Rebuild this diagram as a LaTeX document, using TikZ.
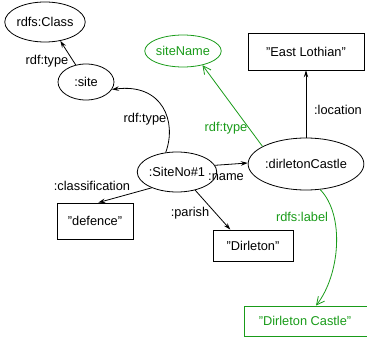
\documentclass[tikz,border=0pt]{standalone}
\usepackage{fontspec}
\setmainfont{Liberation Sans}
\usetikzlibrary{shapes.geometric,arrows.meta,calc}
\definecolor{lit}{RGB}{25,155,25}
\begin{document}
\begin{tikzpicture}[x=1pt,y=-1pt,
  every node/.style={font=\fontsize{12.8}{15}\selectfont},
  res/.style={draw,ellipse,inner sep=0pt,line width=0.8pt},
  val/.style={draw,rectangle,inner sep=0pt,line width=0.8pt},
  edge/.style={line width=0.8pt,-{Stealth[length=7pt,width=4.5pt,inset=2.5pt]}},
  gedge/.style={draw=lit,line width=0.8pt,-{Straight Barb[length=8pt,width=8pt]}},
  lbl/.style={inner sep=0pt},
  glbl/.style={inner sep=0pt,text=lit}]
\useasboundingbox (0,0) rectangle (367,337);
\clip (0,0) rectangle (367,337);

% resources
\node[res,minimum width=78pt,minimum height=40pt] (class) at (45,22) {rdfs:Class};
\node[res,minimum width=56pt,minimum height=36pt] (site) at (86,82) {:site};
\node[res,draw=lit,text=lit,minimum width=58pt,minimum height=32pt] (sitename) at (183,51) {siteName};
\node[res,minimum width=58pt,minimum height=40pt] (siteno) at (177,172) {:SiteNo\#1};
\node[res,minimum width=108pt,minimum height=52pt] (castle) at (306,164) {:dirletonCastle};

% literals
\node[val,minimum width=116pt,minimum height=37pt] (east) at (306,51.5) {"East Lothian"};
\node[val,minimum width=76pt,minimum height=36pt] (defence) at (95,221) {"defence"};
\node[val,minimum width=80pt,minimum height=31pt] (dirleton) at (253,245.5) {"Dirleton"};
% the last literal runs past the right border of the picture
\node[val,draw=lit,text=lit,minimum width=140pt,minimum height=30pt] (dcastle) at (314,321) {\hspace*{-18pt}"Dirleton Castle"};

% properties
\draw[edge] (site.121) -- (class.309);
\node[lbl] at (47,61) {rdf:type};

\draw[edge] (siteno.120) .. controls (177,122) and (163,83) .. (site.344);
\node[lbl] at (145,119) {rdf:type};

\draw[edge] (siteno.10) -- (castle.179);
\node[lbl] at (226,177) {:name};

\draw[edge] (siteno.212) -- (defence.80);
\node[lbl] at (92,186) {:classification};

\draw[edge] (siteno.315) -- (dirleton.145);
\node[lbl] at (190,213) {:parish};

\draw[edge] (castle.north) -- (castle.north |- east.south);
\node[lbl] at (338,110) {:location};

\draw[gedge] (castle.158) -- (sitename.324);
\node[glbl] at (226,128) {rdf:type};

\draw[gedge] (castle.299) .. controls (345,215) and (340,275) .. ($(dcastle.north)+(2,0)$);
\node[glbl] at (302,217) {rdfs:label};
\end{tikzpicture}
\end{document}
